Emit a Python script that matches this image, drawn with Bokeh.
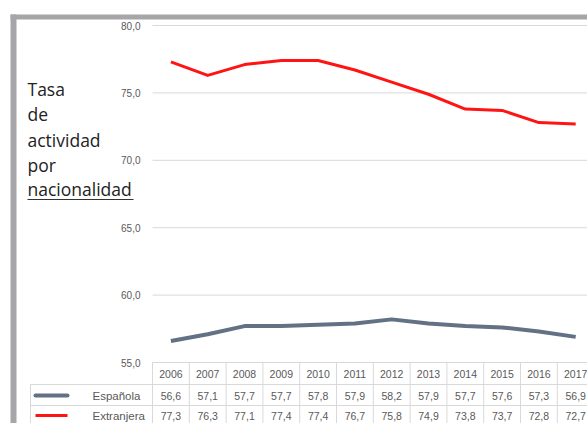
from bokeh.plotting import figure
from bokeh.models import Range1d
from bokeh.core.properties import value
from bokeh.embed import file_html
from bokeh.resources import INLINE

# ---- data ----
years = [2006, 2007, 2008, 2009, 2010, 2011, 2012, 2013, 2014, 2015, 2016, 2017]
espanola = [56.6, 57.1, 57.7, 57.7, 57.8, 57.9, 58.2, 57.9, 57.7, 57.6, 57.3, 56.9]
extranjera = [77.3, 76.3, 77.1, 77.4, 77.4, 76.7, 75.8, 74.9, 73.8, 73.7, 72.8, 72.7]
series_names = ["Española", "Extranjera"]
y_ticks = [55, 60, 65, 70, 75, 80]
title_lines = ["Tasa", "de", "actividad", "por", "nacionalidad"]

# ---- layout (pixels) ----
W, H = 587, 423
PLOT_LEFT_PX = 152
BAND_PX = 36.8
Y80_PX = 25
PX_PER_UNIT = 13.48


def dx(px):
    return years[0] - 0.5 + (px - PLOT_LEFT_PX) / BAND_PX


def dy(py):
    return 80 - (py - Y80_PX) / PX_PER_UNIT


def fmt(v):
    return f"{v:.1f}".replace(".", ",")


p = figure(width=W, height=H, output_backend="svg", toolbar_location=None,
           x_range=Range1d(dx(0), dx(W)), y_range=Range1d(dy(H), dy(0)),
           min_border=0, outline_line_color=None)
p.axis.visible = False
p.grid.visible = False
p.background_fill_color = "white"
p.border_fill_color = "white"

GRID = "#d9d9d9"
TXT = "#595959"
FONT = value("Liberation Sans")

# outer gray frame
p.quad(left=[dx(10), dx(10)], right=[dx(16), dx(W + 5)],
       bottom=[dy(H + 5), dy(19)], top=[dy(14), dy(14)],
       fill_color="#a6a6a9", line_color=None)

# horizontal gridlines and value labels
x_left = years[0] - 0.5
x_right = dx(W)
p.segment(x0=[x_left] * len(y_ticks), x1=[x_right] * len(y_ticks),
          y0=y_ticks, y1=y_ticks, line_color=GRID, line_width=1)
p.text(x=[x_left] * len(y_ticks), y=y_ticks, text=[fmt(v) for v in y_ticks],
       x_offset=-12, text_align="right", text_baseline="middle",
       text_font=FONT, text_font_size="10px", text_color=TXT)

# series lines
p.line(years, espanola, line_color="#627184", line_width=4, line_join="round")
p.line(years, extranjera, line_color="#ff1414", line_width=3, line_join="round")

# ---- data table ----
row_top = dy(362)
row1 = dy(384)
row2 = dy(405)
row_bot = dy(H + 5)
edges = [y - 0.5 for y in years] + [years[-1] + 0.5]
p.segment(x0=edges, x1=edges, y0=[row_top] * len(edges), y1=[row_bot] * len(edges),
          line_color=GRID, line_width=1)
p.segment(x0=[dx(30)] * 2, x1=[dx(30)] * 2, y0=[row1], y1=[row_bot],
          line_color=GRID, line_width=1)
p.segment(x0=[x_left, dx(30), dx(30)], x1=[x_right] * 3,
          y0=[row_top, row1, row2], y1=[row_top, row1, row2],
          line_color=GRID, line_width=1)

yc_head = dy(373)
yc_r1 = dy(395)
yc_r2 = dy(415)
p.text(x=years, y=[yc_head] * len(years), text=[str(y) for y in years],
       text_align="center", text_baseline="middle", text_font=FONT,
       text_font_size="10.5px", text_color=TXT)
p.text(x=years, y=[yc_r1] * len(years), text=[fmt(v) for v in espanola],
       text_align="center", text_baseline="middle", text_font=FONT,
       text_font_size="10.5px", text_color=TXT)
p.text(x=years, y=[yc_r2] * len(years), text=[fmt(v) for v in extranjera],
       text_align="center", text_baseline="middle", text_font=FONT,
       text_font_size="10.5px", text_color=TXT)

# legend keys in table
p.segment(x0=[dx(35)], x1=[dx(67)], y0=[yc_r1], y1=[yc_r1],
          line_color="#627184", line_width=4, line_cap="round")
p.segment(x0=[dx(35)], x1=[dx(67)], y0=[yc_r2], y1=[yc_r2],
          line_color="#ff1414", line_width=3)
p.text(x=[dx(92)] * 2, y=[yc_r1, yc_r2], text=series_names,
       text_align="left", text_baseline="middle", text_font=FONT,
       text_font_size="11.5px", text_color=TXT)

# left title
title_y = [dy(py) for py in (88, 113, 139, 164, 188)]
p.text(x=[dx(27)] * len(title_lines), y=title_y, text=title_lines,
       text_align="left", text_baseline="middle", text_font=value("Open Sans"),
       text_font_size="17.5px", text_color="#222222")
p.segment(x0=[dx(27)], x1=[dx(133)], y0=[dy(199)], y1=[dy(199)],
          line_color="#333333", line_width=1)

open("out.html", "w").write(file_html(p, INLINE))
